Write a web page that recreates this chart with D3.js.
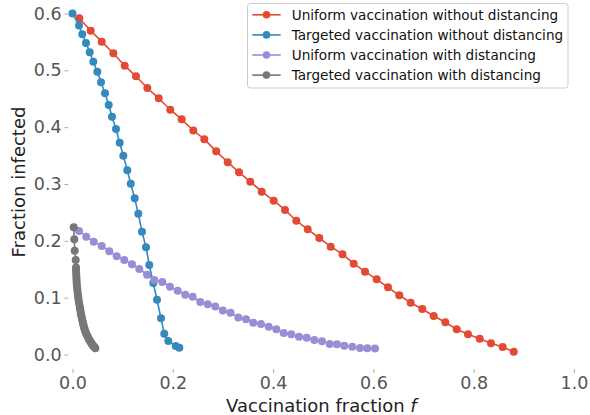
<!DOCTYPE html>
<html>
<head>
<meta charset="utf-8">
<script src="https://cdn.jsdelivr.net/npm/d3@7"></script>
<style>
  html, body { margin: 0; padding: 0; background: #fff; }
  svg { display: block; font-family: "DejaVu Sans", sans-serif; }
</style>
</head>
<body>
<svg id="chart" width="590" height="415"></svg>
<script>
// Fraction infected against vaccination fraction f, four strategies
const seriesNames = [
  "Uniform vaccination without distancing",
  "Targeted vaccination without distancing",
  "Uniform vaccination with distancing",
  "Targeted vaccination with distancing"
];
const seriesColors = ["#E24A33", "#348ABD", "#988ED5", "#777777"];

const uniformNoDistF = [0.0136,0.0363,0.0582,0.0814,0.1041,0.1266,0.1492,0.1719,0.1950,0.2177,0.2409,0.2628,0.2865,0.3095,0.3320,0.3545,0.3773,0.4012,0.4237,0.4463,0.4690,0.4921,0.5149,0.5384,0.5607,0.5833,0.6066,0.6291,0.6516,0.6744,0.6975,0.7202,0.7434,0.7661,0.7886,0.8120,0.8345,0.8578,0.8798];
const uniformNoDistI = [0.5916,0.5697,0.5504,0.5300,0.5082,0.4895,0.4689,0.4508,0.4307,0.4138,0.3941,0.3788,0.3575,0.3384,0.3206,0.3041,0.2865,0.2706,0.2543,0.2354,0.2203,0.2050,0.1897,0.1765,0.1598,0.1457,0.1323,0.1182,0.1042,0.0911,0.0801,0.0677,0.0567,0.0443,0.0355,0.0278,0.0197,0.0132,0.0049];

const targetedNoDistF = [0.0,0.0130,0.0195,0.0269,0.0343,0.0415,0.0495,0.0568,0.0648,0.0722,0.0788,0.0867,0.0941,0.1013,0.1093,0.1161,0.1240,0.1312,0.1386,0.1466,0.1531,0.1611,0.1685,0.1765,0.1830,0.1910,0.2058,0.2130];
const targetedNoDistI = [0.600,0.579,0.5634,0.5481,0.5317,0.5152,0.4976,0.4789,0.4596,0.4390,0.4184,0.3968,0.3727,0.3498,0.3243,0.3005,0.2748,0.2477,0.2161,0.1886,0.1575,0.1258,0.0964,0.0637,0.0366,0.0238,0.0150,0.0120];

const uniformDistF = [0.0130,0.0275,0.0423,0.0582,0.0734,0.0881,0.1033,0.1186,0.1332,0.1486,0.1631,0.1791,0.1944,0.2098,0.2249,0.2397,0.2548,0.2696,0.2847,0.2997,0.3151,0.3306,0.3460,0.3605,0.3759,0.3912,0.4064,0.4211,0.4363,0.4516,0.4670,0.4822,0.4975,0.5129,0.5274,0.5420,0.5579,0.5733,0.5878,0.6032];
const uniformDistI = [0.2173,0.2073,0.1985,0.1909,0.1816,0.1728,0.1663,0.1587,0.1504,0.1404,0.1311,0.1276,0.1193,0.1123,0.1052,0.1017,0.0924,0.0883,0.0845,0.0774,0.0735,0.0651,0.0621,0.0560,0.0537,0.0489,0.0443,0.0378,0.0355,0.0313,0.0296,0.0255,0.0232,0.0185,0.0179,0.0155,0.0137,0.0114,0.0109,0.0106];

const targetedDistF = [0.0024,0.0036,0.0044,0.0064,0.0070,0.0071,0.0074,0.0077,0.0080,0.0083,0.0086,0.0092,0.0099,0.0105,0.0112,0.0119,0.0129,0.0137,0.0146,0.0154,0.0162,0.0170,0.0180,0.0190,0.0200,0.0210,0.0219,0.0230,0.0240,0.0251,0.0268,0.0283,0.0299,0.0316,0.0332,0.0346,0.0368,0.0383,0.0398,0.0416,0.0436,0.0455];
const targetedDistI = [0.2238,0.2027,0.1826,0.1663,0.1530,0.148,0.142,0.137,0.132,0.127,0.122,0.117,0.112,0.107,0.102,0.097,0.092,0.088,0.083,0.079,0.075,0.071,0.067,0.063,0.059,0.055,0.052,0.048,0.045,0.042,0.038,0.035,0.032,0.029,0.026,0.024,0.021,0.019,0.017,0.015,0.013,0.011];

const xTicks = [0.0, 0.2, 0.4, 0.6, 0.8, 1.0];
const yTicks = [0.0, 0.1, 0.2, 0.3, 0.4, 0.5, 0.6];

const seriesF = [uniformNoDistF, targetedNoDistF, uniformDistF, targetedDistF];
const seriesI = [uniformNoDistI, targetedNoDistI, uniformDistI, targetedDistI];
const series = seriesNames.map((name, k) => ({
  name,
  color: seriesColors[k],
  points: seriesF[k].map((f, i) => ({ f, v: seriesI[k][i] }))
}));

const svg = d3.select("#chart");

// Plot frame (no visible spines)
const frame = { left: 68.3, right: 574.5, top: -4, bottom: 369 };
const x = d3.scaleLinear().domain([0, 1]).range([72.5, 574]);
const y = d3.scaleLinear().domain([0, 0.6]).range([354.5, 13.5]);

const tickFont = 17.5;
const xAxis = d3.axisBottom(x).tickValues(xTicks).tickFormat(d3.format(".1f")).tickSize(4).tickPadding(4);
const yAxis = d3.axisLeft(y).tickValues(yTicks).tickFormat(d3.format(".1f")).tickSize(4).tickPadding(2.6);

const gx = svg.append("g").attr("transform", `translate(0,${frame.bottom})`).call(xAxis);
const gy = svg.append("g").attr("transform", `translate(${frame.left},0)`).call(yAxis);
[gx, gy].forEach(g => {
  g.select(".domain").remove();
  g.selectAll(".tick line").attr("stroke", "#b0b0b0").attr("stroke-width", 1);
  g.selectAll(".tick text")
    .attr("fill", "#555555")
    .style("font-family", "DejaVu Sans")
    .style("font-size", tickFont + "px");
});

// Axis titles
const xTitle = svg.append("text")
  .attr("x", (frame.left + frame.right) / 2)
  .attr("y", 411.5)
  .attr("text-anchor", "middle")
  .attr("fill", "#222")
  .style("font-size", "18px");
xTitle.append("tspan").text("Vaccination fraction ");
xTitle.append("tspan").attr("font-style", "italic").text("f");

svg.append("text")
  .attr("transform", `translate(25,182) rotate(-90)`)
  .attr("text-anchor", "middle")
  .attr("fill", "#222")
  .style("font-size", "18px")
  .text("Fraction infected");

// Series: line + round markers
const line = d3.line().x(d => x(d.f)).y(d => y(d.v));
const markerR = 4;
const plot = svg.append("g");
series.forEach(s => {
  const g = plot.append("g");
  g.append("path")
    .datum(s.points)
    .attr("d", line)
    .attr("fill", "none")
    .attr("stroke", s.color)
    .attr("stroke-width", 1.6);
  g.selectAll("circle")
    .data(s.points)
    .join("circle")
    .attr("cx", d => x(d.f))
    .attr("cy", d => y(d.v))
    .attr("r", markerR)
    .attr("fill", s.color);
});

// Legend, upper right
const legend = svg.append("g").attr("transform", "translate(247.5,3.5)");
legend.append("rect")
  .attr("width", 320.5)
  .attr("height", 84.5)
  .attr("rx", 3)
  .attr("fill", "#ffffff")
  .attr("fill-opacity", 0.8)
  .attr("stroke", "#cccccc")
  .attr("stroke-width", 1);
series.forEach((s, k) => {
  const row = legend.append("g").attr("transform", `translate(0,${11.3 + k * 20.1})`);
  row.append("line")
    .attr("x1", 4.8).attr("x2", 33.2)
    .attr("stroke", s.color).attr("stroke-width", 1.6);
  row.append("circle").attr("cx", 19).attr("r", 3.8).attr("fill", s.color);
  row.append("text")
    .attr("x", 44.2)
    .attr("y", 4.9)
    .attr("fill", "#111")
    .style("font-size", "13.6px")
    .text(s.name);
});
</script>
</body>
</html>
